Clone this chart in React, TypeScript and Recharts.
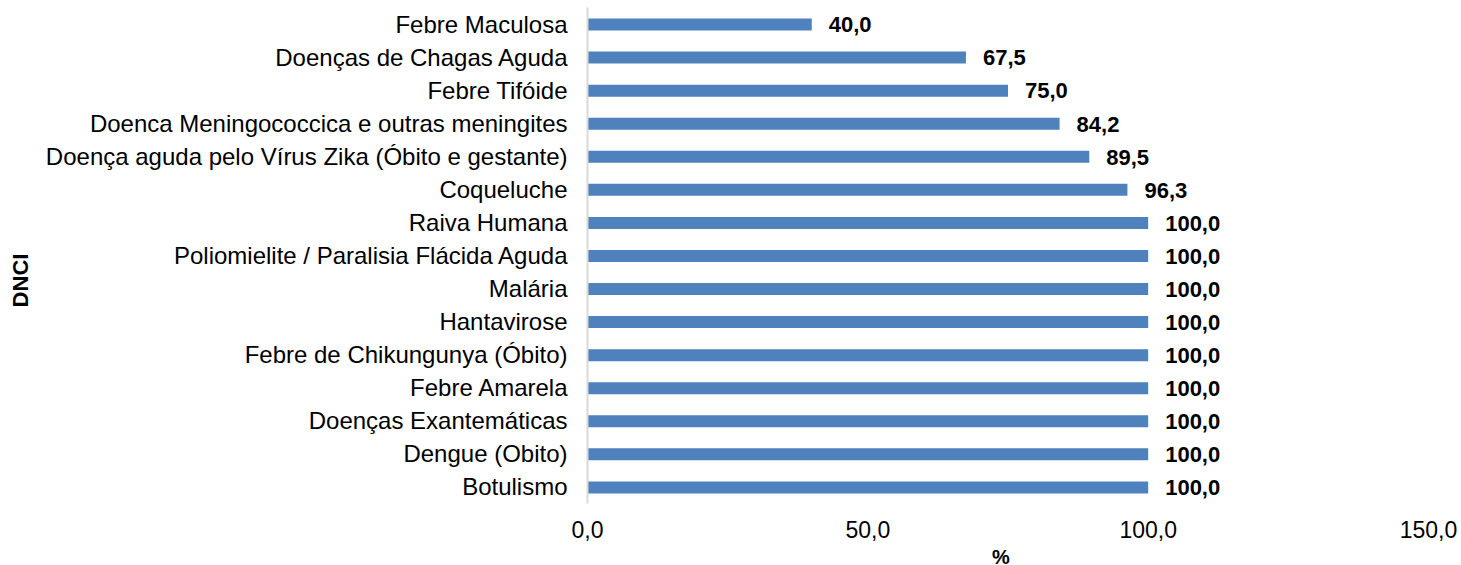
import { BarChart, Bar, XAxis, YAxis, LabelList } from "recharts";

const diseases = [
  "Febre Maculosa",
  "Doenças de Chagas Aguda",
  "Febre Tifóide",
  "Doenca Meningococcica e outras meningites",
  "Doença aguda pelo Vírus Zika (Óbito e gestante)",
  "Coqueluche",
  "Raiva Humana",
  "Poliomielite / Paralisia Flácida Aguda",
  "Malária",
  "Hantavirose",
  "Febre de Chikungunya (Óbito)",
  "Febre Amarela",
  "Doenças Exantemáticas",
  "Dengue (Obito)",
  "Botulismo",
];

const percents = [40.0, 67.5, 75.0, 84.2, 89.5, 96.3, 100, 100, 100, 100, 100, 100, 100, 100, 100];

const xTicks = [0, 50, 100, 150];

const data = diseases.map((name, i) => ({ name, value: percents[i] }));

const FONT = "'Liberation Sans', Arial, sans-serif";
const fmt = (v: number) => v.toFixed(1).replace(".", ",");

const App = () => {
  return (
    <div style={{ position: "absolute", left: 0, top: 0, fontFamily: FONT }}>
      <BarChart
        width={1461}
        height={565}
        data={data}
        layout="vertical"
        margin={{ top: 7.5, right: 32.5, left: 40, bottom: 0 }}
      >
        <XAxis
          type="number"
          domain={[0, 150]}
          ticks={xTicks}
          tickFormatter={fmt}
          axisLine={false}
          tickLine={false}
          tickSize={0}
          tickMargin={18}
          height={61.5}
          tick={{ fill: "#000", fontSize: 23, fontFamily: FONT }}
          label={{
            value: "%",
            position: "insideBottom",
            offset: 1,
            dx: -7,
            style: { fill: "#000", fontSize: 20, fontWeight: "bold", fontFamily: FONT },
          }}
        />
        <YAxis
          type="category"
          dataKey="name"
          width={547.5}
          axisLine={{ stroke: "#D9D9D9", strokeWidth: 2 }}
          tickLine={false}
          tickSize={0}
          tickMargin={20}
          interval={0}
          tick={{ fill: "#000", fontSize: 24, fontFamily: FONT }}
          label={{
            value: "DNCI",
            angle: -90,
            position: "insideLeft",
            offset: -20,
            dy: 25,
            style: { fill: "#000", fontSize: 22, fontWeight: "bold", fontFamily: FONT, textAnchor: "middle" },
          }}
        />
        <Bar dataKey="value" fill="#4F81BD" barSize={12} isAnimationActive={false}>
          <LabelList
            dataKey="value"
            position="right"
            offset={17}
            formatter={(v: any) => fmt(Number(v))}
            style={{ fill: "#000", fontSize: 22, fontWeight: "bold", fontFamily: FONT }}
          />
        </Bar>
      </BarChart>
    </div>
  );
};

export default App;
